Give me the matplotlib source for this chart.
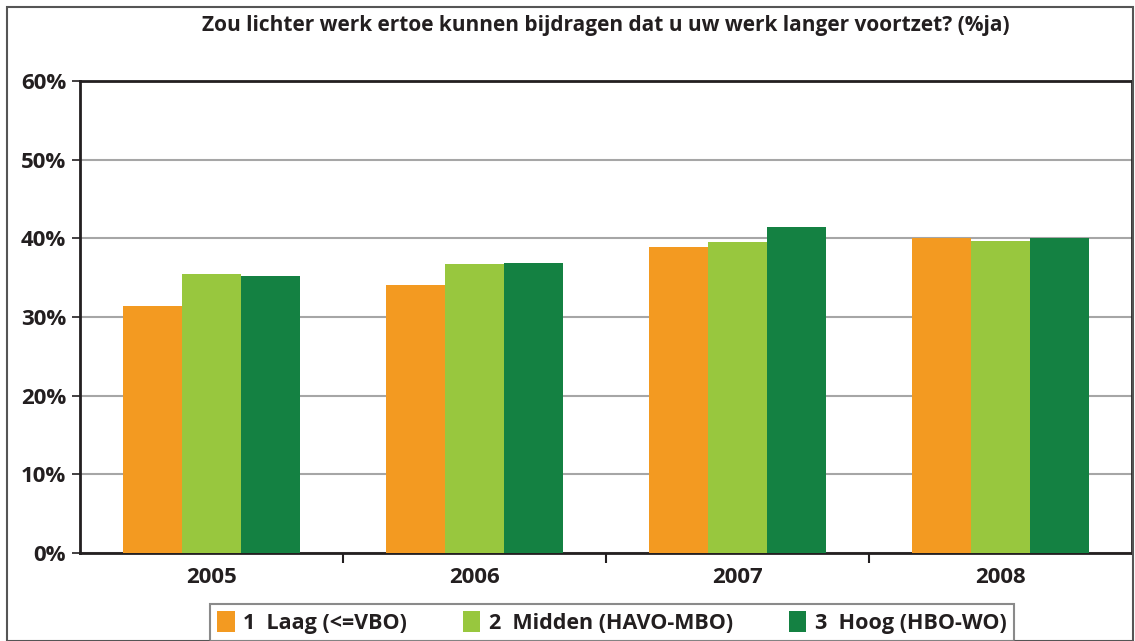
import numpy as np
import matplotlib.pyplot as plt
from matplotlib.patches import Rectangle

years = ["2005", "2006", "2007", "2008"]
series = ["1  Laag (<=VBO)", "2  Midden (HAVO-MBO)", "3  Hoog (HBO-WO)"]
laag = [31.4, 34.1, 38.9, 40.0]
midden = [35.5, 36.7, 39.5, 39.7]
hoog = [35.2, 36.9, 41.4, 40.0]
colors = ["#F39A21", "#98C73E", "#148142"]

plt.rcParams["font.family"] = ["Open Sans", "DejaVu Sans"]

fig = plt.figure(figsize=(11.35, 6.41), dpi=100)
ax = fig.add_axes([80 / 1135, 1 - 553 / 641, (1132 - 80) / 1135, (553 - 81) / 641])

x = np.arange(len(years))
w = 0.224
for i, (vals, lab) in enumerate(zip([laag, midden, hoog], series)):
    ax.bar(x + (i - 1) * w, vals, width=w, color=colors[i], label=lab, zorder=3)

ax.set_xlim(-0.5, 3.5)
ax.set_ylim(0, 60)
ax.set_yticks(range(0, 61, 10))
ax.set_yticklabels([f"{v}%" for v in range(0, 61, 10)], fontsize=16, fontweight="bold", color="#231f20")
ax.set_xticks(x)
ax.set_xticklabels(years, fontsize=16, fontweight="bold", color="#231f20")
ax.tick_params(axis="x", length=0, pad=10)
ax.set_xticks([0.5, 1.5, 2.5], minor=True)
ax.tick_params(axis="x", which="minor", length=7, width=1.5, color="#231f20", direction="out")
ax.tick_params(axis="y", length=6, width=1.2, color="#231f20", pad=4)
ax.grid(axis="y", color="#a6a6a6", linewidth=1.5, zorder=0)
for s in ax.spines.values():
    s.set_color("#231f20")
    s.set_linewidth(2)
ax.set_axisbelow(True)

fig.text(606 / 1135, 1 - 26 / 641, "Zou lichter werk ertoe kunnen bijdragen dat u uw werk langer voortzet? (%ja)",
         ha="center", va="center", fontsize=15, fontweight="bold", color="#231f20")

leg = fig.legend(loc="upper center", bbox_to_anchor=(612 / 1135, 1 - 595 / 641), ncol=3,
                 frameon=True, fancybox=False, edgecolor="#6d6d6d", handlelength=0.8,
                 handleheight=1.1, handletextpad=0.4, columnspacing=2.6, borderpad=0.35,
                 borderaxespad=0.4, prop={"size": 15.5, "weight": "bold"})
leg.get_frame().set_linewidth(1.5)
for t in leg.get_texts():
    t.set_color("#231f20")

fig.patches.append(Rectangle((7 / 1135, 0), 1126 / 1135, 1 - 7 / 641, transform=fig.transFigure,
                             fill=False, edgecolor="#555555", linewidth=1.5))

fig.savefig("out.png", dpi=100)
